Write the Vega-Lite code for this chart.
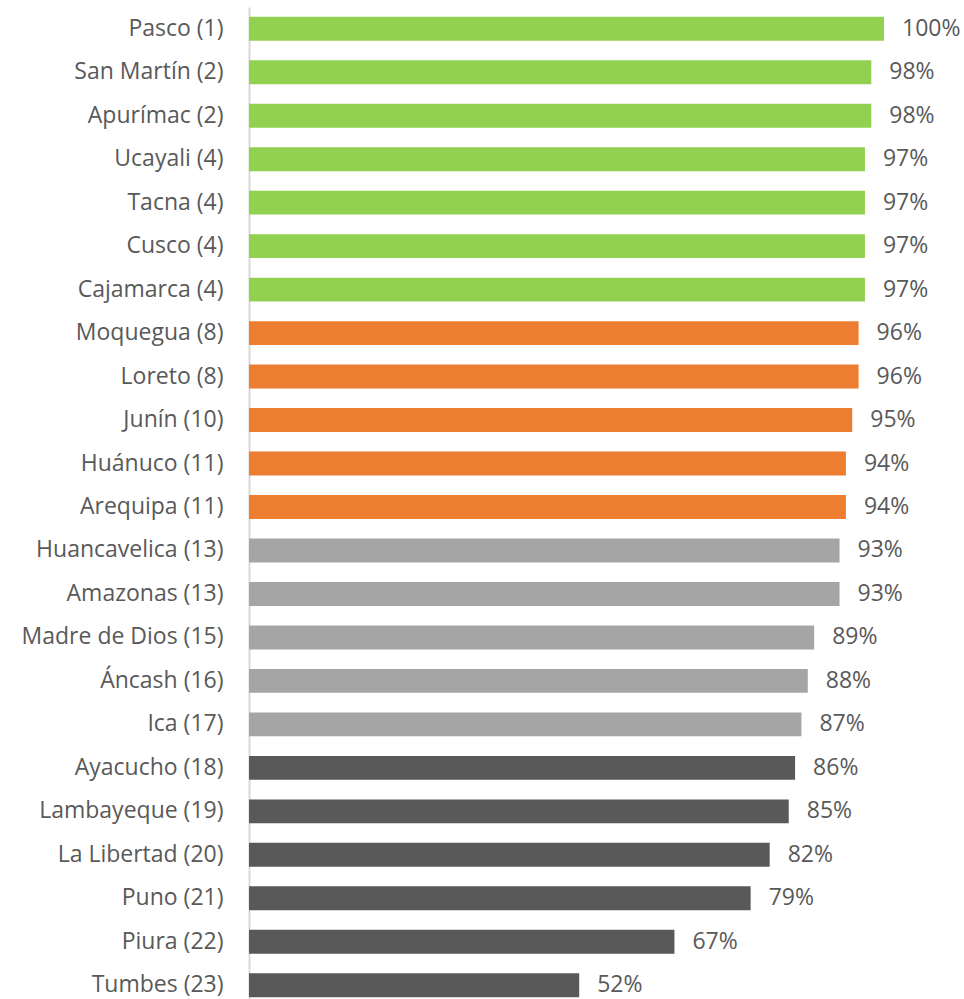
{
  "$schema": "https://vega.github.io/schema/vega-lite/v6.json",
  "width": 715,
  "height": 1000,
  "autosize": {"type": "none"},
  "padding": {"left": 249, "top": 7, "right": 0, "bottom": 0},
  "background": "white",
  "config": {"view": {"stroke": null}, "font": "Open Sans"},
  "data": {"values": [
    {"region": "Pasco (1)", "value": 1.00, "group": "a"},
    {"region": "San Martín (2)", "value": 0.98, "group": "a"},
    {"region": "Apurímac (2)", "value": 0.98, "group": "a"},
    {"region": "Ucayali (4)", "value": 0.97, "group": "a"},
    {"region": "Tacna (4)", "value": 0.97, "group": "a"},
    {"region": "Cusco (4)", "value": 0.97, "group": "a"},
    {"region": "Cajamarca (4)", "value": 0.97, "group": "a"},
    {"region": "Moquegua (8)", "value": 0.96, "group": "b"},
    {"region": "Loreto (8)", "value": 0.96, "group": "b"},
    {"region": "Junín (10)", "value": 0.95, "group": "b"},
    {"region": "Huánuco (11)", "value": 0.94, "group": "b"},
    {"region": "Arequipa (11)", "value": 0.94, "group": "b"},
    {"region": "Huancavelica (13)", "value": 0.93, "group": "c"},
    {"region": "Amazonas (13)", "value": 0.93, "group": "c"},
    {"region": "Madre de Dios (15)", "value": 0.89, "group": "c"},
    {"region": "Áncash (16)", "value": 0.88, "group": "c"},
    {"region": "Ica (17)", "value": 0.87, "group": "c"},
    {"region": "Ayacucho (18)", "value": 0.86, "group": "d"},
    {"region": "Lambayeque (19)", "value": 0.85, "group": "d"},
    {"region": "La Libertad (20)", "value": 0.82, "group": "d"},
    {"region": "Puno (21)", "value": 0.79, "group": "d"},
    {"region": "Piura (22)", "value": 0.67, "group": "d"},
    {"region": "Tumbes (23)", "value": 0.52, "group": "d"}
  ]},
  "encoding": {
    "y": {"field": "region", "type": "nominal", "sort": null,
      "scale": {"paddingInner": 0.45, "paddingOuter": 0.225},
      "axis": {"title": null, "ticks": false, "domainColor": "#D9D9D9", "domainWidth": 2,
        "labelFontSize": 23, "labelColor": "#595959", "labelPadding": 26, "labelLimit": 400, "labelFont": "Open Sans"}},
    "x": {"field": "value", "type": "quantitative",
      "scale": {"domain": [0, 1.126]}, "axis": null}
  },
  "layer": [
    {"mark": {"type": "bar", "cornerRadius": 0},
      "encoding": {"color": {"field": "group", "type": "nominal", "legend": null,
        "scale": {"domain": ["a", "b", "c", "d"], "range": ["#92D050", "#ED7D31", "#A5A5A5", "#595959"]}}}},
    {"mark": {"type": "text", "align": "left", "dx": 18, "fontSize": 23, "color": "#595959", "font": "Open Sans"},
      "encoding": {"text": {"field": "value", "type": "quantitative", "format": ".0%"}}}
  ]
}
